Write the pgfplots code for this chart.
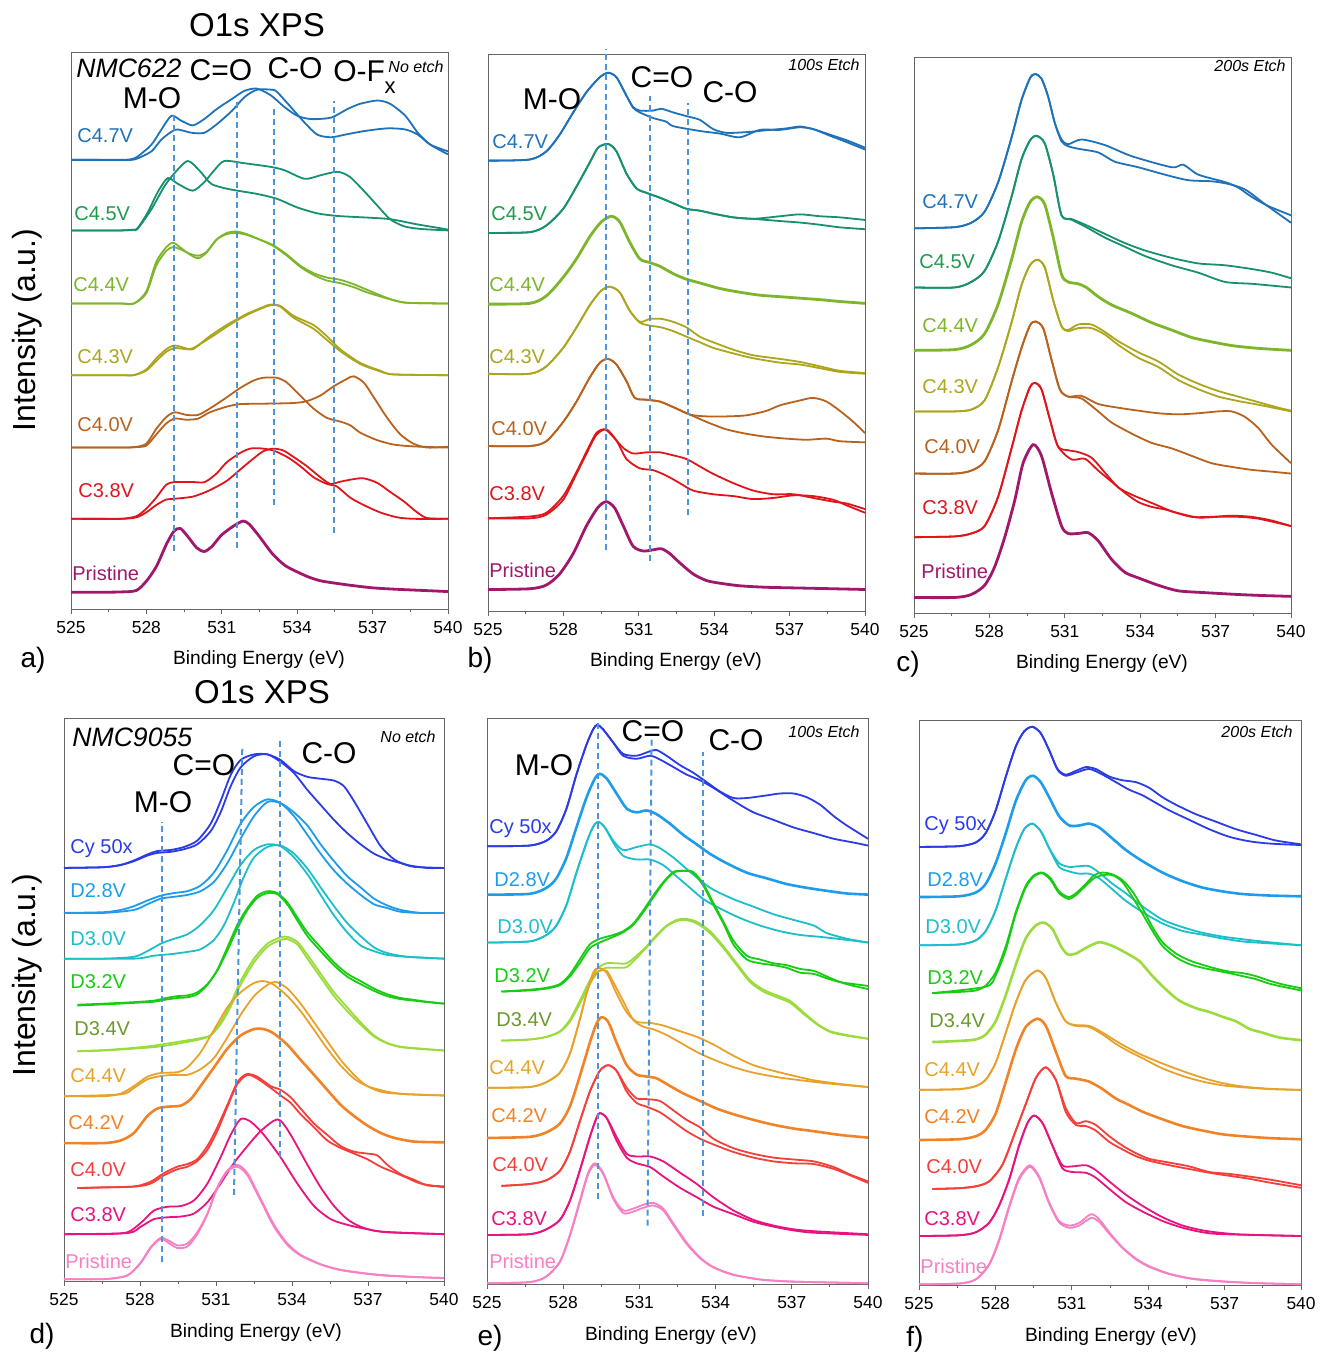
\documentclass[border=0pt]{standalone}
\usepackage{pgfplots}
\pgfplotsset{compat=1.18}
\usepackage{fontspec}
\setmainfont{Liberation Sans}

\definecolor{a47}{HTML}{1F72B8}
\definecolor{a45}{HTML}{16906E}
\definecolor{a45l}{HTML}{1D9A4A}
\definecolor{a44}{HTML}{7DB52B}
\definecolor{a43}{HTML}{ABA61E}
\definecolor{a40}{HTML}{B8621D}
\definecolor{a38}{HTML}{E0151B}
\definecolor{apr}{HTML}{A0176B}
\definecolor{bcy}{HTML}{2B3BE6}
\definecolor{b28}{HTML}{1E9CEB}
\definecolor{b30}{HTML}{1BBFC9}
\definecolor{b32}{HTML}{17CC13}
\definecolor{b34}{HTML}{9BDB3B}
\definecolor{b34l}{HTML}{6A9A2C}
\definecolor{b44}{HTML}{E8A22C}
\definecolor{b42}{HTML}{F28226}
\definecolor{b40}{HTML}{F43F3B}
\definecolor{b38}{HTML}{E8137E}
\definecolor{bpr}{HTML}{F780C4}
\definecolor{dsh}{HTML}{4C95DA}

\pgfplotsset{xps/.style={
  scale only axis, clip=false, anchor=south west,
  xmin=525, xmax=540, ymin=0,
  xtick={525,528,...,540}, minor x tick num=1,
  ytick=\empty, xtick pos=left, tick align=outside,
  major tick length=2.6pt, minor tick length=1.6pt,
  axis line style={black!60, line width=0.5pt},
  tick style={black!60, line width=0.5pt},
  tick label style={font=\fontsize{8.7}{10}\selectfont},
  /pgf/number format/assume math mode=true,
  every axis plot/.append style={smooth, tension=0.45, line width=0.9pt, mark=none},
}}
\tikzset{
  lab/.style={anchor=west, inner sep=0pt, font=\fontsize{10}{12}\selectfont},
  pk/.style={inner sep=0pt, font=\fontsize{15}{18}\selectfont},
  etch/.style={anchor=east, inner sep=0pt, font=\fontsize{8}{10}\selectfont\itshape},
  dl/.style={dsh, line width=1pt, dash pattern=on 3pt off 2pt},
  xl/.style={font=\fontsize{9.6}{11}\selectfont},
}

\begin{document}
\begin{tikzpicture}
\useasboundingbox (0pt,0pt) rectangle (659.5pt,-677pt);

% ---------------- (a) NMC622, no etch
\begin{axis}[xps, at={(35.5pt,-304.5pt)}, width=188.5pt, height=278pt, ymax=1498]
\addplot[a47] coordinates {(525,1210) (526,1210) (527,1210) (527.4,1212) (527.65,1219) (528.2,1251) (528.6,1292) (529,1329) (529.4,1315) (529.85,1303) (530.3,1320) (530.8,1347) (531.4,1374) (531.9,1396) (532.4,1402) (532.95,1384) (533.5,1352) (534,1329) (534.55,1320) (535.35,1324) (536,1347) (536.5,1361) (537.2,1370) (537.7,1361) (538.3,1329) (538.8,1283) (539.3,1251) (540,1225)};
\addplot[a47] coordinates {(525,1210) (526,1210) (527,1210) (527.4,1210) (527.65,1214) (528.2,1233) (528.6,1265) (529,1286) (529.25,1292) (529.8,1283) (530.3,1283) (530.8,1306) (531.4,1342) (531.9,1379) (532.4,1399) (533,1399) (533.2,1393) (533.75,1352) (534.3,1310) (534.8,1278) (535.35,1271) (535.9,1278) (536.7,1288) (537.6,1295) (538.3,1292) (538.8,1278) (539.3,1251) (540,1233)};
\addplot[a45] coordinates {(525,1020) (526,1020) (527,1020) (527.5,1022) (527.65,1026) (528.05,1068) (528.45,1123) (528.85,1161) (529.24,1146) (529.84,1127) (530.3,1150) (530.7,1182) (531.1,1207) (531.9,1201) (532.96,1191) (533.5,1182) (534.3,1159) (534.95,1169) (535.6,1178) (536.1,1164) (536.7,1123) (537.2,1086) (537.7,1050) (538.26,1031) (538.9,1024) (540,1020)};
\addplot[a45] coordinates {(525,1020) (526,1020) (527,1020) (527.5,1022) (527.65,1024) (528.2,1077) (528.7,1137) (529.1,1173) (529.64,1207) (530.1,1182) (530.57,1146) (531.1,1134) (531.63,1127) (532.43,1118) (533.2,1105) (534,1082) (534.8,1066) (535.6,1059) (536.94,1054) (537.73,1050) (538.8,1036) (539.6,1027) (540,1022)};
\addplot[a44] coordinates {(525,823) (526,823) (527,823) (527.5,823) (527.99,855) (528.39,935) (528.79,975) (529.06,987) (529.33,975) (529.73,955) (530.06,945) (530.39,960) (530.79,995) (531.19,1013) (531.59,1017) (531.99,1010) (532.52,995) (533.05,980) (533.59,955) (534.12,925) (534.65,905) (535.18,893) (535.71,887) (536.25,875) (536.78,860) (537.31,845) (537.84,832) (538.38,825) (540,823)};
\addplot[a44] coordinates {(525,823) (527,823) (527.5,823) (527.99,850) (528.39,925) (528.79,965) (529.06,975) (529.33,970) (529.73,957) (530.06,952) (530.39,962) (530.79,995) (531.19,1010) (531.59,1013) (531.99,1008) (532.52,995) (533.05,978) (533.59,952) (534.12,922) (534.65,900) (535.18,885) (535.71,878) (536.25,867) (536.78,853) (537.31,842) (537.84,832) (538.38,825) (540,823)};
\addplot[a43] coordinates {(525,630) (526,630) (527,630) (527.5,630) (527.99,645) (528.39,675) (528.79,700) (529.13,710) (529.59,702) (529.86,700) (530.52,735) (531.19,765) (531.59,780) (531.99,795) (532.52,810) (532.92,820) (533.32,815) (533.85,785) (534.65,755) (535.18,725) (535.71,695) (536.51,660) (537.31,640) (537.84,632) (540,630)};
\addplot[a43] coordinates {(525,630) (527,630) (527.5,630) (527.99,642) (528.39,668) (528.79,693) (529.13,703) (529.59,700) (529.86,703) (530.52,730) (531.19,760) (531.59,777) (531.99,792) (532.52,808) (532.92,818) (533.32,817) (533.85,790) (534.65,765) (535.18,735) (535.71,700) (536.51,663) (537.31,642) (537.84,632) (540,630)};
\addplot[a40] coordinates {(525,435) (526,435) (527,435) (527.5,436) (527.99,445) (528.39,485) (528.79,517) (529.13,530) (529.59,523) (530.06,523) (530.52,540) (531.19,570) (531.72,595) (532.25,615) (532.65,623) (533.19,623) (533.59,610) (534.12,575) (534.65,540) (535.18,515) (535.71,505) (536.11,495) (536.51,475) (537.18,455) (537.84,443) (538.64,438) (540,435)};
\addplot[a40] coordinates {(525,435) (527,435) (527.5,436) (527.99,440) (528.39,470) (528.79,500) (529.13,513) (529.59,510) (530.06,513) (530.52,530) (531.19,545) (531.72,552) (532.52,553) (533.85,555) (534.38,560) (534.92,575) (535.45,600) (535.98,620) (536.25,627) (536.65,610) (537.05,570) (537.58,515) (538.11,470) (538.64,445) (539.18,435) (540,437)};
\addplot[a38] coordinates {(525,243) (526,243) (527,243) (527.6,250) (527.99,270) (528.39,300) (528.79,335) (529.13,342) (529.86,342) (530.32,342) (530.79,365) (531.19,395) (531.72,420) (532.12,432) (532.52,433) (533.05,427) (533.59,410) (534.12,385) (534.65,355) (535.18,337) (535.58,330) (536.11,300) (536.65,280) (537.31,260) (537.98,247) (538.64,243) (540,243)};
\addplot[a38] coordinates {(525,243) (527,243) (527.6,247) (527.99,260) (528.39,280) (528.79,295) (529.13,297) (529.86,303) (530.52,320) (531.19,345) (531.72,375) (532.25,405) (532.65,425) (533.05,432) (533.45,427) (533.85,410) (534.38,385) (534.92,355) (535.32,337) (535.71,343) (536.25,350) (536.65,352) (537.18,340) (537.71,315) (538.24,290) (538.78,260) (539.18,245) (540,243)};
\addplot[apr, line width=1.4pt] coordinates {(525,45) (526,45) (527,46) (527.6,50) (528,75) (528.4,115) (528.8,175) (529.1,210) (529.35,217) (529.65,195) (530,165) (530.3,155) (530.6,168) (531,200) (531.5,225) (531.85,237) (532.1,228) (532.5,195) (533,150) (533.5,118) (534,100) (534.5,85) (535,75) (536,65) (537,57) (538,53) (539,50) (540,47)};
\draw[dl] (axis cs:529.1,155) -- (axis cs:529.1,1330);
\draw[dl] (axis cs:531.6,165) -- (axis cs:531.6,1375);
\draw[dl] (axis cs:533.07,280) -- (axis cs:533.07,1355);
\draw[dl] (axis cs:535.45,205) -- (axis cs:535.45,1370);
\end{axis}

% ---------------- (b) NMC622, 100s etch
\begin{axis}[xps, at={(244pt,-305.5pt)}, width=188.5pt, height=278pt, ymax=1500]
\addplot[a47] coordinates {(525,1215) (526.66,1218) (527.32,1240) (527.85,1285) (528.39,1345) (528.92,1400) (529.45,1440) (529.78,1452) (530.11,1440) (530.51,1390) (530.77,1360) (531.04,1350) (531.57,1350) (531.9,1355) (532.37,1345) (532.9,1335) (533.43,1325) (533.96,1300) (534.49,1290) (535.29,1292) (536.08,1297) (536.88,1302) (537.41,1307) (537.94,1300) (538.61,1285) (539.27,1270) (540,1250)};
\addplot[a47] coordinates {(525,1215) (526.66,1218) (527.32,1240) (527.85,1285) (528.39,1345) (528.92,1400) (529.45,1440) (529.78,1452) (530.11,1440) (530.51,1390) (530.77,1358) (531.04,1345) (531.57,1330) (532.1,1320) (532.37,1308) (533.43,1295) (534.23,1288) (535.02,1278) (535.82,1298) (536.62,1298) (537.41,1305) (537.94,1300) (538.61,1282) (539.27,1265) (540,1245)};
\addplot[a45] coordinates {(525,1020) (526.66,1022) (527.32,1040) (527.99,1085) (528.52,1145) (529.05,1210) (529.38,1250) (529.78,1260) (530.11,1240) (530.51,1180) (530.91,1140) (531.31,1128) (531.84,1115) (532.37,1100) (532.9,1085) (533.43,1080) (533.96,1072) (534.76,1062) (535.55,1058) (536.62,1065) (537.41,1070) (538.21,1065) (539,1062) (540,1055)};
\addplot[a45] coordinates {(525,1020) (526.66,1022) (527.32,1040) (527.99,1085) (528.52,1145) (529.05,1210) (529.38,1250) (529.78,1260) (530.11,1240) (530.51,1180) (530.91,1140) (531.31,1128) (531.84,1115) (532.37,1100) (532.9,1085) (533.43,1080) (533.96,1072) (534.76,1062) (535.55,1058) (536.62,1052) (537.41,1048) (538.21,1042) (539,1035) (540,1030)};
\addplot[a44, line width=1.4pt] coordinates {(525,828) (526.66,830) (527.32,850) (527.99,900) (528.52,950) (529.05,1010) (529.51,1050) (529.91,1065) (530.24,1050) (530.64,995) (531.04,950) (531.44,940) (531.84,930) (532.37,910) (532.9,895) (533.43,885) (534.23,870) (535.02,860) (535.82,852) (536.62,848) (537.41,844) (538.21,840) (539,835) (540,830)};
\addplot[a43] coordinates {(525,640) (526.66,640) (527.32,660) (527.99,710) (528.52,765) (529.05,825) (529.51,865) (529.85,875) (530.24,860) (530.64,810) (531.04,780) (531.44,788) (531.9,788) (532.37,780) (532.9,765) (533.43,740) (533.96,725) (534.76,705) (535.55,690) (536.62,680) (537.41,672) (538.21,660) (539,648) (540,642)};
\addplot[a43] coordinates {(525,640) (526.66,640) (527.32,660) (527.99,710) (528.52,765) (529.05,825) (529.51,865) (529.85,875) (530.24,860) (530.64,810) (531.04,778) (531.44,770) (531.9,765) (532.37,755) (532.9,740) (533.43,725) (533.96,710) (534.76,695) (535.55,682) (536.62,670) (537.41,665) (538.21,655) (539,645) (540,640)};
\addplot[a40] coordinates {(525,445) (526.66,445) (527.32,458) (527.99,510) (528.52,565) (529.05,630) (529.45,670) (529.78,680) (530.11,665) (530.51,620) (530.84,575) (531.31,570) (531.84,565) (532.37,550) (533.03,530) (533.7,525) (534.49,525) (535.29,528) (536.08,540) (536.62,555) (537.41,568) (537.94,575) (538.47,565) (539,540) (539.54,510) (540,480)};
\addplot[a40] coordinates {(525,445) (526.66,445) (527.32,458) (527.99,510) (528.52,565) (529.05,630) (529.45,670) (529.78,680) (530.11,665) (530.51,620) (530.84,575) (531.31,570) (531.84,565) (532.37,550) (533.03,530) (533.7,510) (534.49,490) (535.29,478) (536.08,470) (536.88,465) (537.68,462) (538.47,465) (539,458) (540,455)};
\addplot[a38] coordinates {(525,250) (526.66,255) (527.32,265) (527.99,310) (528.52,375) (528.92,430) (529.31,480) (529.65,490) (529.98,470) (530.38,440) (530.77,425) (531.31,428) (531.84,428) (532.37,420) (532.9,410) (533.43,390) (533.96,370) (534.76,345) (535.55,325) (536.35,315) (537.15,315) (537.94,305) (538.74,295) (539.27,290) (540,275)};
\addplot[a38] coordinates {(525,250) (526.66,250) (527.32,260) (527.99,300) (528.52,370) (528.92,425) (529.31,475) (529.71,490) (530.11,460) (530.51,410) (531.04,385) (531.57,380) (532.1,365) (532.63,345) (533.16,325) (533.96,315) (534.76,310) (535.55,302) (536.35,305) (537.15,312) (537.94,310) (538.74,300) (539.27,285) (540,265)};
\addplot[apr, line width=1.4pt] coordinates {(525,58) (526.66,60) (527.32,70) (527.85,100) (528.39,155) (528.92,230) (529.38,280) (529.71,295) (530.04,278) (530.38,230) (530.77,175) (531.17,162) (531.57,165) (531.9,168) (532.23,155) (532.63,130) (533.16,100) (533.7,82) (534.23,75) (535.02,68) (536.08,64) (537.41,62) (538.74,60) (540,58)};
\draw[dl] (axis cs:529.69,165) -- (axis cs:529.69,1515);
\draw[dl] (axis cs:531.46,135) -- (axis cs:531.46,1390);
\draw[dl] (axis cs:532.96,260) -- (axis cs:532.96,1370);
\end{axis}

% ---------------- (c) NMC622, 200s etch
\begin{axis}[xps, at={(457pt,-306.5pt)}, width=188.5pt, height=278pt, ymax=1503]
\addplot[a47] coordinates {(525,1040) (526.62,1043) (527.28,1055) (527.81,1085) (528.35,1165) (528.88,1285) (529.27,1385) (529.61,1445) (529.81,1457) (530.07,1445) (530.34,1395) (530.6,1325) (530.87,1280) (531.13,1267) (531.66,1280) (532.59,1265) (533.66,1235) (535.25,1205) (535.71,1212) (536.31,1185) (537.37,1165) (537.9,1150) (538.43,1125) (539.1,1100) (540,1075)};
\addplot[a47] coordinates {(525,1040) (526.62,1043) (527.28,1055) (527.81,1085) (528.35,1165) (528.88,1285) (529.27,1385) (529.61,1445) (529.81,1457) (530.07,1445) (530.34,1395) (530.6,1325) (530.87,1275) (531.13,1262) (531.53,1255) (532.33,1245) (532.99,1220) (533.92,1205) (534.98,1185) (535.91,1170) (536.84,1167) (537.5,1160) (538.17,1145) (538.97,1105) (540,1055)};
\addplot[a45] coordinates {(525,880) (526.62,880) (527.28,895) (527.81,925) (528.35,1005) (528.88,1125) (529.27,1225) (529.61,1277) (529.87,1290) (530.2,1270) (530.54,1185) (530.87,1075) (531.27,1065) (531.8,1050) (532.59,1025) (533.39,1000) (534.19,980) (535.25,960) (536.31,945) (537.37,940) (538.43,930) (539.23,920) (540,905)};
\addplot[a45] coordinates {(525,880) (526.62,880) (527.28,895) (527.81,925) (528.35,1005) (528.88,1125) (529.27,1225) (529.61,1277) (529.87,1290) (530.2,1270) (530.54,1185) (530.87,1075) (531.27,1063) (531.8,1045) (532.59,1015) (533.39,990) (534.19,965) (535.25,940) (536.31,920) (537.37,895) (538.43,890) (539.23,885) (540,880)};
\addplot[a44, line width=1.4pt] coordinates {(525,710) (526.62,712) (527.28,725) (527.81,755) (528.35,835) (528.88,955) (529.27,1055) (529.61,1110) (529.9,1125) (530.2,1105) (530.54,1015) (530.87,915) (531.13,895) (531.53,890) (531.86,880) (532.33,855) (532.86,833) (533.66,810) (534.45,785) (535.25,765) (536.04,745) (536.84,733) (537.64,723) (538.43,717) (539.23,713) (540,710)};
\addplot[a43] coordinates {(525,545) (526.62,545) (527.28,550) (527.81,575) (528.35,665) (528.88,785) (529.27,885) (529.61,940) (529.91,955) (530.2,935) (530.54,845) (530.87,775) (531.13,765) (531.53,780) (532.06,780) (532.59,760) (533.12,735) (533.92,705) (534.72,680) (535.51,645) (536.31,620) (537.11,600) (537.9,585) (538.7,570) (539.5,555) (540,547)};
\addplot[a43] coordinates {(525,545) (526.62,545) (527.28,550) (527.81,575) (528.35,665) (528.88,785) (529.27,885) (529.61,940) (529.91,955) (530.2,935) (530.54,845) (530.87,775) (531.13,762) (531.53,770) (532.06,770) (532.59,753) (533.12,725) (533.92,690) (534.72,665) (535.51,630) (536.31,605) (537.11,585) (537.9,573) (538.7,563) (539.5,552) (540,545)};
\addplot[a40] coordinates {(525,377) (526.62,377) (527.28,385) (527.81,410) (528.35,495) (528.88,625) (529.27,715) (529.61,777) (529.83,788) (530.14,770) (530.47,685) (530.8,605) (531.13,585) (531.66,587) (532.33,565) (533.12,555) (533.92,547) (534.72,540) (535.51,537) (536.31,540) (537.11,545) (537.64,545) (538.17,530) (538.7,500) (539.23,455) (540,405)};
\addplot[a40] coordinates {(525,377) (526.62,377) (527.28,385) (527.81,410) (528.35,495) (528.88,625) (529.27,715) (529.61,777) (529.83,788) (530.14,770) (530.47,685) (530.8,605) (531.13,585) (531.66,580) (532.33,545) (532.86,515) (533.66,485) (534.45,460) (535.25,445) (536.04,425) (536.84,405) (537.64,395) (538.43,387) (539.23,382) (540,377)};
\addplot[a38] coordinates {(525,205) (526.62,207) (527.28,215) (527.81,235) (528.35,315) (528.88,445) (529.27,545) (529.61,610) (529.81,622) (530.07,605) (530.4,525) (530.73,450) (531.13,440) (531.53,435) (532.06,420) (532.59,380) (533.12,340) (533.66,320) (534.19,305) (534.72,290) (535.25,275) (536.04,260) (536.84,260) (537.64,263) (538.43,260) (539.23,250) (540,235)};
\addplot[a38] coordinates {(525,205) (526.62,207) (527.28,215) (527.81,235) (528.35,315) (528.88,445) (529.27,545) (529.61,610) (529.81,622) (530.07,605) (530.4,525) (530.73,450) (531.27,415) (531.8,417) (532.33,385) (532.86,355) (533.39,325) (533.92,300) (534.45,287) (534.98,280) (535.51,270) (536.31,258) (537.11,260) (537.9,260) (538.7,255) (540,235)};
\addplot[apr, line width=1.4pt] coordinates {(525,42) (526.62,42) (527.28,50) (527.81,75) (528.21,125) (528.61,205) (529.01,305) (529.34,405) (529.74,455) (530.07,425) (530.47,325) (530.87,235) (531.13,215) (531.53,215) (531.93,217) (532.33,195) (532.86,145) (533.39,110) (533.92,95) (534.72,75) (535.51,60) (536.58,55) (537.9,50) (538.97,47) (540,45)};
\end{axis}

% ---------------- (d) NMC9055, no etch
\begin{axis}[xps, at={(32pt,-640.5pt)}, width=190pt, height=281.5pt, ymax=1502]
\addplot[bcy] coordinates {(525,1102) (526.58,1104) (527.24,1110) (527.76,1122) (528.29,1138) (528.68,1147) (529.21,1150) (529.74,1158) (530.26,1175) (530.79,1220) (531.18,1280) (531.58,1350) (531.97,1390) (532.5,1405) (533.03,1405) (533.55,1390) (534.08,1360) (534.61,1345) (535.13,1340) (535.66,1335) (536.05,1320) (536.45,1280) (536.97,1220) (537.5,1160) (538.03,1125) (538.55,1110) (539.34,1102) (540,1102)};
\addplot[bcy] coordinates {(525,1102) (526.58,1104) (527.24,1110) (527.76,1120) (528.29,1135) (528.68,1142) (529.21,1145) (529.74,1152) (530.26,1165) (530.79,1200) (531.18,1250) (531.58,1320) (531.97,1370) (532.5,1400) (533.03,1405) (533.55,1385) (534.08,1355) (534.61,1310) (535.13,1270) (535.66,1230) (536.18,1195) (536.71,1165) (537.24,1140) (537.76,1125) (538.29,1115) (538.82,1105) (540,1102)};
\addplot[b28] coordinates {(525,982) (526.58,984) (527.24,990) (527.76,1000) (528.29,1015) (528.82,1028) (529.34,1035) (529.87,1040) (530.39,1055) (530.92,1090) (531.45,1150) (531.97,1220) (532.5,1265) (533.03,1285) (533.55,1275) (534.08,1240) (534.61,1190) (535.13,1140) (535.66,1095) (536.18,1060) (536.71,1030) (537.24,1005) (537.76,995) (538.29,985) (539.08,982) (540,982)};
\addplot[b28] coordinates {(525,982) (526.58,982) (527.76,990) (528.29,1005) (528.82,1020) (529.34,1025) (529.87,1030) (530.39,1040) (530.92,1065) (531.45,1115) (531.97,1180) (532.5,1240) (533.03,1278) (533.55,1275) (534.08,1250) (534.61,1215) (535.13,1165) (535.66,1120) (536.18,1080) (536.71,1050) (537.24,1020) (537.76,1002) (538.29,990) (539.08,982) (540,982)};
\addplot[b30] coordinates {(525,860) (526.58,860) (527.76,865) (528.29,880) (528.82,900) (529.21,910) (529.87,925) (530.39,950) (530.92,990) (531.45,1050) (531.97,1110) (532.5,1150) (533.03,1165) (533.55,1160) (534.08,1130) (534.61,1085) (535.13,1030) (535.66,975) (536.18,930) (536.71,895) (537.24,880) (537.76,870) (538.55,865) (540,860)};
\addplot[b30] coordinates {(525,860) (527.76,860) (528.55,868) (529.21,872) (529.87,878) (530.39,885) (530.92,910) (531.32,950) (531.71,1010) (532.11,1080) (532.5,1130) (533.03,1158) (533.55,1162) (534.08,1140) (534.61,1100) (535.13,1050) (535.66,1000) (536.18,955) (536.71,920) (537.24,890) (537.76,875) (538.55,865) (540,860)};
\addplot[b32] coordinates {(525.53,735) (526.58,738) (527.76,742) (528.55,745) (528.95,750) (529.47,755) (529.87,757) (530.26,765) (530.66,790) (531.05,830) (531.45,890) (531.84,950) (532.24,995) (532.63,1028) (533.03,1040) (533.42,1035) (533.82,1010) (534.21,970) (534.61,930) (535.13,890) (535.66,850) (536.18,820) (536.71,800) (537.24,780) (537.76,765) (538.29,755) (538.82,750) (539.34,745) (540,740)};
\addplot[b32] coordinates {(525.53,737) (526.58,740) (527.76,744) (528.55,748) (528.95,754) (529.47,760) (529.87,762) (530.26,770) (530.66,792) (531.05,828) (531.45,882) (531.84,940) (532.24,990) (532.63,1022) (533.03,1035) (533.42,1032) (533.82,1004) (534.21,962) (534.61,920) (535.13,880) (535.66,842) (536.18,812) (536.71,792) (537.24,774) (537.76,760) (538.29,752) (538.82,748) (539.34,744) (540,740)};
\addplot[b34] coordinates {(525.53,613) (526.58,615) (527.76,620) (528.55,624) (529.21,630) (529.87,638) (530.39,645) (530.79,655) (531.18,690) (531.58,740) (531.97,800) (532.5,860) (533.03,900) (533.55,917) (533.82,918) (534.21,905) (534.61,870) (535.13,820) (535.66,770) (536.18,730) (536.71,690) (537.24,655) (537.76,635) (538.29,625) (539.08,620) (540,615)};
\addplot[b34] coordinates {(525.53,613) (526.58,616) (527.76,622) (528.55,628) (529.21,635) (529.87,642) (530.39,648) (530.79,656) (531.18,685) (531.58,732) (531.97,790) (532.5,850) (533.03,892) (533.55,910) (533.82,912) (534.21,898) (534.61,860) (535.13,810) (535.66,760) (536.18,720) (536.71,684) (537.24,652) (537.76,634) (538.29,624) (539.08,619) (540,615)};
\addplot[b44] coordinates {(525,493) (526.58,493) (527.24,500) (527.76,520) (528.29,545) (528.82,555) (529.47,557) (529.87,570) (530.39,610) (530.92,670) (531.45,730) (531.97,770) (532.5,795) (532.89,800) (533.29,790) (533.82,760) (534.34,720) (534.87,670) (535.39,620) (535.92,575) (536.45,540) (536.97,520) (537.76,505) (538.55,498) (540,495)};
\addplot[b44] coordinates {(525,493) (527.24,498) (527.76,515) (528.29,538) (528.82,547) (529.34,550) (529.87,550) (530.39,565) (530.92,595) (531.45,650) (531.97,710) (532.5,760) (533.03,790) (533.36,798) (533.82,780) (534.34,740) (534.87,690) (535.39,640) (535.92,590) (536.45,550) (536.97,520) (537.76,502) (540,495)};
\addplot[b42, line width=1.3pt] coordinates {(525,368) (526.58,368) (527.24,375) (527.76,395) (528.29,440) (528.68,460) (529.08,465) (529.61,468) (530,485) (530.39,520) (530.92,570) (531.45,620) (531.97,655) (532.5,672) (532.89,672) (533.29,660) (533.82,630) (534.34,590) (534.87,550) (535.39,510) (535.92,470) (536.45,440) (536.97,415) (537.5,395) (538.03,382) (538.82,372) (540,370)};
\addplot[b40] coordinates {(525.53,248) (526.58,250) (527.76,252) (528.42,265) (528.95,288) (529.47,305) (529.87,312) (530.26,325) (530.66,360) (531.05,410) (531.45,470) (531.84,530) (532.21,552) (532.63,545) (533.16,520) (533.55,510) (533.95,490) (534.34,460) (534.87,420) (535.39,390) (535.92,360) (536.45,345) (536.97,340) (537.37,335) (537.76,310) (538.29,285) (538.82,270) (539.34,255) (540,253)};
\addplot[b40] coordinates {(525.53,248) (527.76,252) (528.42,260) (528.95,282) (529.47,298) (529.87,305) (530.26,320) (530.66,350) (531.05,400) (531.45,465) (531.84,525) (532.24,550) (532.63,540) (533.16,515) (533.55,495) (533.95,475) (534.34,445) (534.87,410) (535.39,375) (535.92,355) (536.45,340) (536.97,325) (537.5,305) (538.03,290) (538.55,275) (539.08,260) (540,250)};
\addplot[b38] coordinates {(525,125) (526.58,125) (527.5,130) (528.03,155) (528.55,188) (529.08,198) (529.61,200) (530.13,215) (530.66,260) (531.18,330) (531.58,390) (531.97,432) (532.37,425) (532.89,390) (533.55,330) (534.21,260) (534.87,200) (535.53,165) (536.18,150) (536.84,140) (537.76,130) (540,125)};
\addplot[b38] coordinates {(525,125) (527.5,128) (528.03,145) (528.55,165) (529.08,170) (529.61,172) (530.13,180) (530.66,210) (531.18,260) (531.71,315) (532.24,360) (532.76,400) (533.29,428) (533.55,428) (533.95,390) (534.61,310) (535.13,250) (535.66,200) (536.18,165) (536.71,145) (537.5,132) (540,125)};
\addplot[bpr] coordinates {(525,5) (526.58,5) (527.5,15) (528.03,50) (528.42,90) (528.82,115) (529.21,105) (529.47,95) (529.87,100) (530.26,130) (530.66,180) (531.05,250) (531.45,295) (531.84,310) (532.24,288) (532.76,220) (533.29,150) (533.82,100) (534.34,70) (535.13,45) (535.92,30) (536.97,20) (537.76,15) (539.08,10) (540,8)};
\addplot[bpr] coordinates {(525,5) (526.58,5) (527.5,15) (528.03,48) (528.42,88) (528.82,112) (529.21,98) (529.47,88) (529.87,92) (530.26,125) (530.66,178) (531.05,248) (531.45,292) (531.84,305) (532.24,282) (532.76,215) (533.29,145) (533.82,96) (534.34,68) (535.13,44) (535.92,29) (536.97,19) (537.76,14) (539.08,10) (540,8)};
\draw[dl] (axis cs:528.88,50) -- (axis cs:528.88,1225);
\draw[dl] (axis cs:531.71,230) -- (axis cs:532.04,1430);
\draw[dl] (axis cs:533.53,330) -- (axis cs:533.53,1445);
\end{axis}

% ---------------- (e) NMC9055, 100s etch
\begin{axis}[xps, at={(243.5pt,-642pt)}, width=190.5pt, height=283pt, ymax=1500]
\addplot[bcy] coordinates {(525,1160) (526.68,1162) (527.34,1175) (527.73,1200) (528.13,1260) (528.52,1350) (528.92,1430) (529.18,1470) (529.34,1482) (529.57,1470) (529.97,1435) (530.36,1405) (530.89,1400) (531.42,1412) (531.68,1415) (532.07,1400) (532.6,1375) (533.12,1355) (533.65,1330) (534.18,1305) (534.7,1288) (535.23,1288) (536.02,1295) (536.54,1300) (537.07,1300) (537.59,1290) (538.12,1270) (538.65,1240) (539.17,1215) (540,1180)};
\addplot[bcy] coordinates {(525,1160) (526.68,1162) (527.34,1175) (527.73,1200) (528.13,1260) (528.52,1350) (528.92,1430) (529.18,1470) (529.34,1482) (529.57,1470) (529.97,1435) (530.36,1400) (530.89,1392) (531.42,1400) (531.81,1390) (532.34,1370) (532.86,1350) (533.39,1335) (533.91,1315) (534.44,1292) (534.96,1270) (535.49,1250) (536.28,1230) (537.07,1210) (537.86,1195) (538.65,1180) (539.43,1170) (540,1162)};
\addplot[b28, line width=1.3pt] coordinates {(525,1032) (526.68,1034) (527.34,1050) (527.73,1075) (528.13,1130) (528.52,1210) (528.92,1290) (529.25,1340) (529.44,1352) (529.71,1340) (530.1,1300) (530.5,1260) (530.89,1250) (531.28,1255) (531.68,1245) (532.2,1220) (532.73,1190) (533.26,1165) (533.78,1140) (534.44,1115) (535.23,1090) (536.02,1075) (536.8,1060) (537.59,1050) (538.38,1042) (539.17,1035) (540,1032)};
\addplot[b30] coordinates {(525,905) (526.68,908) (527.34,925) (527.73,950) (528.13,1005) (528.52,1090) (528.92,1170) (529.18,1212) (529.38,1225) (529.64,1210) (529.97,1175) (530.36,1150) (530.89,1158) (531.42,1165) (531.81,1155) (532.34,1130) (532.86,1100) (533.39,1070) (533.91,1045) (534.7,1020) (535.49,1000) (536.28,980) (537.07,965) (537.86,950) (538.38,930) (539.17,915) (540,905)};
\addplot[b30] coordinates {(525,905) (526.68,908) (527.34,925) (527.73,950) (528.13,1005) (528.52,1090) (528.92,1170) (529.18,1212) (529.38,1225) (529.64,1210) (529.97,1170) (530.36,1135) (530.89,1125) (531.42,1125) (531.94,1110) (532.47,1080) (532.99,1050) (533.52,1020) (534.18,995) (534.96,970) (535.75,950) (536.54,935) (537.33,925) (538.12,920) (539.17,912) (540,905)};
\addplot[b32] coordinates {(525.57,775) (526.68,780) (527.34,785) (527.87,795) (528.26,820) (528.65,860) (529.05,900) (529.44,915) (529.97,925) (530.36,935) (530.76,955) (531.15,990) (531.55,1030) (531.94,1065) (532.34,1092) (532.73,1095) (533.12,1092) (533.52,1060) (533.91,1010) (534.31,960) (534.7,910) (535.23,870) (535.75,860) (536.28,850) (536.8,845) (537.33,835) (537.86,830) (538.38,815) (538.91,800) (539.43,790) (540,782)};
\addplot[b32] coordinates {(525.57,775) (526.68,778) (527.34,783) (527.87,792) (528.26,815) (528.65,850) (529.05,890) (529.44,905) (529.97,920) (530.36,932) (530.76,952) (531.15,985) (531.55,1025) (531.94,1062) (532.34,1090) (532.73,1095) (533.12,1090) (533.52,1055) (533.91,1005) (534.31,955) (534.7,900) (535.23,860) (535.75,850) (536.28,845) (536.8,838) (537.33,825) (537.86,822) (538.38,810) (538.91,800) (539.43,795) (540,790)};
\addplot[b34] coordinates {(525.57,645) (526.68,648) (527.34,655) (527.87,670) (528.26,700) (528.65,750) (529.05,805) (529.38,838) (529.71,850) (530.1,850) (530.5,850) (530.89,870) (531.28,895) (531.68,925) (532.07,950) (532.47,965) (532.8,968) (533.26,960) (533.78,935) (534.31,895) (534.83,850) (535.36,805) (535.88,780) (536.41,765) (536.94,750) (537.46,720) (537.99,690) (538.51,670) (539.17,660) (540,650)};
\addplot[b34] coordinates {(525.57,645) (526.68,648) (527.34,655) (527.87,668) (528.26,695) (528.65,742) (529.05,795) (529.38,828) (529.71,838) (530.1,838) (530.5,840) (530.89,864) (531.28,892) (531.68,922) (532.07,948) (532.47,962) (532.8,965) (533.26,956) (533.78,930) (534.31,890) (534.83,845) (535.36,800) (535.88,775) (536.41,760) (536.94,745) (537.46,716) (537.99,688) (538.51,668) (539.17,658) (540,650)};
\addplot[b44] coordinates {(525,520) (526.68,522) (527.34,535) (527.87,560) (528.26,610) (528.65,700) (528.92,770) (529.18,825) (529.38,838) (529.71,825) (530.1,770) (530.5,720) (530.89,695) (531.42,692) (531.94,685) (532.6,670) (533.26,655) (533.91,635) (534.7,605) (535.49,580) (536.28,565) (537.07,552) (537.86,540) (538.91,530) (540,522)};
\addplot[b44] coordinates {(525,520) (526.68,522) (527.34,535) (527.87,560) (528.26,610) (528.65,700) (528.92,770) (529.18,815) (529.44,830) (529.71,830) (529.97,800) (530.36,750) (530.76,700) (531.15,682) (531.55,675) (532.07,660) (532.6,640) (533.26,615) (533.91,595) (534.7,575) (535.49,560) (536.54,547) (537.59,538) (538.65,530) (540,522)};
\addplot[b42, line width=1.3pt] coordinates {(525,387) (526.68,390) (527.34,402) (527.87,425) (528.26,470) (528.65,550) (529.05,640) (529.31,690) (529.51,707) (529.77,695) (530.1,640) (530.5,580) (530.89,555) (531.28,550) (531.68,545) (532.2,525) (532.73,505) (533.39,485) (534.04,465) (534.7,450) (535.49,435) (536.28,422) (537.07,412) (537.86,405) (538.91,395) (540,388)};
\addplot[b40] coordinates {(525.57,260) (526.68,265) (527.34,275) (527.87,300) (528.26,350) (528.65,430) (529.05,510) (529.44,565) (529.77,580) (530.1,565) (530.5,520) (530.89,492) (531.28,490) (531.81,485) (532.34,460) (532.86,435) (533.39,415) (533.91,385) (534.7,360) (535.49,345) (536.28,335) (537.07,330) (537.86,325) (538.65,310) (539.3,290) (540,272)};
\addplot[b40] coordinates {(525.57,260) (526.68,265) (527.34,275) (527.87,300) (528.26,350) (528.65,430) (529.05,510) (529.44,565) (529.77,580) (530.1,565) (530.5,510) (530.89,480) (531.28,470) (531.81,455) (532.34,430) (532.86,405) (533.39,385) (533.91,370) (534.7,350) (535.49,335) (536.28,325) (537.07,320) (537.86,318) (538.65,305) (539.3,288) (540,268)};
\addplot[b38] coordinates {(525,130) (526.68,132) (527.34,145) (527.87,170) (528.26,220) (528.65,300) (529.05,390) (529.31,440) (529.44,453) (529.71,440) (530.1,390) (530.5,345) (530.89,338) (531.42,338) (531.94,325) (532.6,295) (533.26,265) (533.91,230) (534.7,195) (535.49,170) (536.28,155) (537.07,145) (537.86,140) (540,132)};
\addplot[b38] coordinates {(525,130) (526.68,132) (527.34,145) (527.87,170) (528.26,220) (528.65,300) (529.05,390) (529.31,440) (529.44,453) (529.71,440) (530.1,380) (530.5,335) (530.89,320) (531.42,310) (531.94,285) (532.6,255) (533.26,230) (533.91,205) (534.7,185) (535.49,165) (536.28,152) (537.07,142) (537.86,136) (540,130)};
\addplot[bpr] coordinates {(525,2) (526.68,5) (527.34,20) (527.87,60) (528.26,130) (528.65,220) (528.98,295) (529.25,320) (529.57,295) (529.97,230) (530.36,195) (530.76,200) (531.15,210) (531.55,215) (531.94,200) (532.34,160) (532.86,110) (533.39,70) (533.91,45) (534.7,25) (535.75,12) (536.8,7) (537.86,5) (540,2)};
\addplot[bpr] coordinates {(525,2) (526.68,5) (527.34,20) (527.87,58) (528.26,126) (528.65,215) (528.98,290) (529.25,316) (529.57,292) (529.97,226) (530.36,188) (530.76,192) (531.15,202) (531.55,208) (531.94,195) (532.34,156) (532.86,106) (533.39,68) (533.91,44) (534.7,24) (535.75,12) (536.8,7) (537.86,5) (540,2)};
\draw[dl] (axis cs:529.38,225) -- (axis cs:529.38,1495);
\draw[dl] (axis cs:531.32,155) -- (axis cs:531.48,1445);
\draw[dl] (axis cs:533.52,180) -- (axis cs:533.52,1410);
\end{axis}

% ---------------- (f) NMC9055, 200s etch
\begin{axis}[xps, at={(459.5pt,-642.5pt)}, width=191pt, height=282.5pt, ymax=1500]
\addplot[bcy] coordinates {(525,1163) (526.57,1165) (527.23,1175) (527.62,1200) (528.01,1260) (528.41,1350) (528.8,1430) (529.13,1470) (529.45,1482) (529.78,1465) (530.11,1420) (530.44,1370) (530.76,1355) (531.16,1365) (531.55,1375) (531.94,1370) (532.47,1350) (532.99,1340) (533.52,1335) (534.04,1320) (534.56,1295) (535.09,1275) (535.87,1250) (536.66,1230) (537.45,1210) (538.23,1195) (539.02,1180) (540,1170)};
\addplot[bcy] coordinates {(525,1163) (526.57,1165) (527.23,1175) (527.62,1200) (528.01,1260) (528.41,1350) (528.8,1430) (529.13,1470) (529.45,1482) (529.78,1465) (530.11,1420) (530.44,1368) (530.76,1352) (531.16,1360) (531.68,1370) (532.21,1355) (532.73,1335) (533.25,1315) (533.78,1300) (534.3,1280) (534.83,1260) (535.61,1235) (536.4,1210) (537.18,1190) (537.97,1178) (538.76,1172) (540,1168)};
\addplot[b28, line width=1.3pt] coordinates {(525,1030) (526.57,1032) (527.23,1042) (527.62,1065) (528.01,1120) (528.41,1200) (528.8,1285) (529.19,1340) (529.48,1352) (529.78,1335) (530.11,1295) (530.5,1245) (530.9,1220) (531.29,1220) (531.68,1225) (532.07,1215) (532.6,1185) (533.12,1155) (533.78,1125) (534.56,1095) (535.35,1072) (536.14,1055) (536.92,1045) (537.71,1038) (538.76,1034) (540,1032)};
\addplot[b30] coordinates {(525,902) (526.57,904) (527.23,915) (527.62,940) (528.01,995) (528.41,1080) (528.8,1160) (529.13,1210) (529.45,1225) (529.78,1205) (530.11,1160) (530.5,1120) (530.9,1110) (531.29,1112) (531.68,1112) (532.07,1095) (532.6,1065) (533.12,1040) (533.78,1005) (534.56,970) (535.35,950) (536.14,935) (536.92,925) (537.71,918) (538.76,910) (540,902)};
\addplot[b30] coordinates {(525,902) (526.57,904) (527.23,915) (527.62,940) (528.01,995) (528.41,1080) (528.8,1160) (529.13,1210) (529.45,1225) (529.78,1205) (530.11,1160) (530.5,1110) (530.9,1098) (531.29,1092) (531.68,1092) (532.07,1080) (532.6,1050) (533.12,1020) (533.78,990) (534.56,960) (535.35,940) (536.14,930) (536.92,920) (537.71,912) (538.76,907) (540,902)};
\addplot[b32] coordinates {(525.52,775) (526.57,778) (527.23,782) (527.62,795) (528.01,830) (528.41,900) (528.8,990) (529.19,1060) (529.52,1088) (529.85,1095) (530.17,1080) (530.5,1045) (530.87,1030) (531.16,1040) (531.55,1065) (531.88,1088) (532.21,1095) (532.6,1090) (532.99,1075) (533.38,1045) (533.78,1000) (534.17,950) (534.56,910) (535.09,880) (535.61,862) (536.14,850) (536.66,840) (537.18,832) (537.71,828) (538.23,820) (538.76,808) (539.28,798) (540,788)};
\addplot[b32] coordinates {(525.52,775) (527.62,792) (528.01,822) (528.41,890) (528.8,985) (529.19,1055) (529.52,1085) (529.85,1093) (530.17,1075) (530.5,1040) (530.87,1025) (531.16,1035) (531.55,1060) (531.88,1080) (532.21,1088) (532.6,1088) (532.99,1070) (533.38,1030) (533.78,985) (534.17,940) (534.56,900) (535.09,870) (535.61,852) (536.14,842) (536.66,835) (537.18,828) (537.71,820) (538.23,812) (538.76,800) (539.28,792) (540,782)};
\addplot[b34, line width=1.3pt] coordinates {(525.52,645) (526.57,648) (527.23,652) (527.62,665) (528.01,700) (528.41,770) (528.8,850) (529.19,920) (529.59,955) (529.91,962) (530.24,945) (530.57,900) (530.83,878) (531.16,880) (531.55,895) (532.07,910) (532.6,900) (533.12,882) (533.65,860) (534.17,820) (534.69,785) (535.22,755) (535.87,735) (536.4,725) (536.92,712) (537.45,700) (537.97,680) (538.49,670) (539.15,657) (540,650)};
\addplot[b44] coordinates {(525,518) (526.57,520) (527.23,528) (527.62,545) (528.01,590) (528.41,670) (528.8,750) (529.19,810) (529.65,835) (529.98,815) (530.37,750) (530.76,700) (531.16,688) (531.68,685) (532.21,665) (532.73,640) (533.25,620) (533.78,602) (534.56,575) (535.35,555) (536.14,540) (536.92,530) (537.71,525) (538.76,520) (540,518)};
\addplot[b44] coordinates {(525,518) (526.57,520) (527.23,528) (527.62,545) (528.01,590) (528.41,670) (528.8,750) (529.19,810) (529.65,835) (529.98,815) (530.37,750) (530.76,700) (531.16,690) (531.68,688) (532.21,670) (532.73,648) (533.25,628) (533.78,610) (534.56,588) (535.35,568) (536.14,550) (536.92,536) (537.71,527) (538.76,521) (540,518)};
\addplot[b42, line width=1.3pt] coordinates {(525,385) (526.57,387) (527.23,395) (527.62,412) (528.01,455) (528.41,540) (528.8,625) (529.19,685) (529.65,707) (529.98,688) (530.37,620) (530.76,555) (531.16,548) (531.68,540) (532.21,520) (532.73,495) (533.25,478) (533.78,460) (534.56,440) (535.35,422) (536.14,410) (536.92,400) (537.71,395) (538.76,390) (540,387)};
\addplot[b40] coordinates {(525.52,255) (526.57,257) (527.23,262) (527.75,275) (528.28,320) (528.8,410) (529.19,480) (529.59,550) (529.98,578) (530.37,545) (530.76,470) (531.16,430) (531.55,435) (531.94,425) (532.47,395) (532.99,370) (533.52,350) (534.04,335) (534.83,325) (535.61,315) (536.4,300) (537.18,295) (537.97,288) (538.76,280) (540,265)};
\addplot[b40] coordinates {(525.52,255) (526.57,257) (527.23,262) (527.75,275) (528.28,320) (528.8,410) (529.19,480) (529.59,550) (529.98,578) (530.37,545) (530.76,460) (531.16,425) (531.55,422) (531.94,410) (532.47,380) (532.99,360) (533.52,342) (534.04,330) (534.83,318) (535.61,308) (536.4,298) (537.18,290) (537.97,282) (538.76,272) (540,258)};
\addplot[b38] coordinates {(525,130) (526.57,132) (527.23,140) (527.75,165) (528.14,210) (528.54,280) (528.93,370) (529.26,430) (529.52,450) (529.85,430) (530.24,370) (530.63,318) (531.03,315) (531.55,318) (531.94,305) (532.47,275) (533.12,240) (533.78,210) (534.56,180) (535.35,158) (536.14,145) (536.92,138) (537.71,134) (540,130)};
\addplot[b38] coordinates {(525,130) (526.57,132) (527.23,140) (527.75,165) (528.14,210) (528.54,280) (528.93,370) (529.26,430) (529.52,450) (529.85,430) (530.24,370) (530.63,310) (531.03,300) (531.55,298) (531.94,285) (532.47,255) (533.12,220) (533.78,195) (534.56,170) (535.35,152) (536.14,140) (536.92,135) (540,130)};
\addplot[bpr] coordinates {(525,2) (526.57,4) (527.23,15) (527.75,55) (528.14,120) (528.54,210) (528.93,285) (529.35,318) (529.72,288) (530.11,220) (530.5,170) (530.9,158) (531.29,165) (531.75,188) (532.07,175) (532.47,140) (532.99,100) (533.52,70) (534.04,50) (534.83,30) (535.74,17) (536.92,10) (538.23,5) (540,2)};
\addplot[bpr] coordinates {(525,2) (526.57,4) (527.23,15) (527.75,53) (528.14,116) (528.54,205) (528.93,280) (529.35,314) (529.72,284) (530.11,216) (530.5,166) (530.9,152) (531.29,158) (531.75,178) (532.07,168) (532.47,136) (532.99,98) (533.52,68) (534.04,48) (534.83,29) (535.74,16) (536.92,9) (538.23,5) (540,2)};
\end{axis}

% ---------------- texts, placed in image-pixel units
\begin{scope}[x=0.5pt,y=-0.5pt]
% (a)
\node[lab,text=a47] at (77,136) {C4.7V};
\node[lab,text=a45l] at (74,214) {C4.5V};
\node[lab,text=a44] at (73,285) {C4.4V};
\node[lab,text=a43] at (77,357) {C4.3V};
\node[lab,text=a40] at (77,425) {C4.0V};
\node[lab,text=a38] at (78,491) {C3.8V};
\node[lab,text=apr] at (72,573) {Pristine};
\node[anchor=west,inner sep=0pt,font=\fontsize{13.3}{16}\selectfont\itshape] at (76,68) {NMC622};
\node[pk] at (221,70) {C=O};
\node[pk] at (295,68) {C-O};
\node[pk,anchor=west] at (333,71) {O-F};
\node[inner sep=0pt,font=\fontsize{11}{13}\selectfont] at (390,88) {x};
\node[etch] at (444,67) {No etch};
\node[pk] at (152,98) {M-O};
% (b)
\node[lab,text=a47] at (492,142) {C4.7V};
\node[lab,text=a45l] at (491,214) {C4.5V};
\node[lab,text=a44] at (489,285) {C4.4V};
\node[lab,text=a43] at (489,357) {C4.3V};
\node[lab,text=a40] at (491,429) {C4.0V};
\node[lab,text=a38] at (489,494) {C3.8V};
\node[lab,text=apr] at (489,570) {Pristine};
\node[pk] at (552,99) {M-O};
\node[pk] at (662,77) {C=O};
\node[pk] at (730,92) {C-O};
\node[etch] at (860,65) {100s Etch};
% (c)
\node[lab,text=a47] at (922,202) {C4.7V};
\node[lab,text=a45l] at (919,262) {C4.5V};
\node[lab,text=a44] at (922,326) {C4.4V};
\node[lab,text=a43] at (922,387) {C4.3V};
\node[lab,text=a40] at (924,447) {C4.0V};
\node[lab,text=a38] at (922,508) {C3.8V};
\node[lab,text=apr] at (921,571) {Pristine};
\node[etch] at (1286,66) {200s Etch};
% (d)
\node[lab,text=bcy] at (70,849) {Cy 50x};
\node[lab,text=b28] at (70,891) {D2.8V};
\node[lab,text=b30] at (70,939) {D3.0V};
\node[lab,text=b32] at (70,982) {D3.2V};
\node[lab,text=b34l] at (74,1029) {D3.4V};
\node[lab,text=b44] at (70,1076) {C4.4V};
\node[lab,text=b42] at (68,1123) {C4.2V};
\node[lab,text=b40] at (70,1170) {C4.0V};
\node[lab,text=b38] at (70,1215) {C3.8V};
\node[lab,text=bpr] at (65,1261) {Pristine};
\node[anchor=west,inner sep=0pt,font=\fontsize{13.3}{16}\selectfont\itshape] at (72,737) {NMC9055};
\node[etch] at (436,737) {No etch};
\node[pk] at (204,765) {C=O};
\node[pk] at (163,802) {M-O};
\node[pk] at (329,753) {C-O};
% (e)
\node[lab,text=bcy] at (489,829) {Cy 50x};
\node[lab,text=b28] at (494,880) {D2.8V};
\node[lab,text=b30] at (497,927) {D3.0V};
\node[lab,text=b32] at (494,976) {D3.2V};
\node[lab,text=b34l] at (496,1020) {D3.4V};
\node[lab,text=b44] at (489,1068) {C4.4V};
\node[lab,text=b42] at (491,1116) {C4.2V};
\node[lab,text=b40] at (492,1165) {C4.0V};
\node[lab,text=b38] at (491,1219) {C3.8V};
\node[lab,text=bpr] at (489,1261) {Pristine};
\node[pk] at (544,765) {M-O};
\node[pk] at (653,731) {C=O};
\node[pk] at (736,740) {C-O};
\node[etch] at (860,732) {100s Etch};
% (f)
\node[lab,text=bcy] at (924,826) {Cy 50x};
\node[lab,text=b28] at (927,880) {D2.8V};
\node[lab,text=b30] at (925,927) {D3.0V};
\node[lab,text=b32] at (927,978) {D3.2V};
\node[lab,text=b34l] at (929,1021) {D3.4V};
\node[lab,text=b44] at (924,1070) {C4.4V};
\node[lab,text=b42] at (924,1117) {C4.2V};
\node[lab,text=b40] at (926,1167) {C4.0V};
\node[lab,text=b38] at (924,1219) {C3.8V};
\node[lab,text=bpr] at (920,1266) {Pristine};
\node[etch] at (1293,732) {200s Etch};
% shared
\node[font=\fontsize{16.5}{20}\selectfont] at (257,25) {O1s XPS};
\node[font=\fontsize{16.5}{20}\selectfont] at (262,692) {O1s XPS};
\node[rotate=90,font=\fontsize{16}{19}\selectfont] at (27,330) {Intensity (a.u.)};
\node[rotate=90,font=\fontsize{16}{19}\selectfont] at (27,975) {Intensity (a.u.)};
\node[xl] at (259,660) {Binding Energy (eV)};
\node[xl] at (676,662) {Binding Energy (eV)};
\node[xl] at (1102,664) {Binding Energy (eV)};
\node[xl] at (256,1333) {Binding Energy (eV)};
\node[xl] at (671,1336) {Binding Energy (eV)};
\node[xl] at (1111,1337) {Binding Energy (eV)};
\node[font=\fontsize{14}{16}\selectfont] at (33,660) {a)};
\node[font=\fontsize{14}{16}\selectfont] at (480,660) {b)};
\node[font=\fontsize{14}{16}\selectfont] at (908,664) {c)};
\node[font=\fontsize{14}{16}\selectfont] at (42,1336) {d)};
\node[font=\fontsize{14}{16}\selectfont] at (490,1338) {e)};
\node[font=\fontsize{14}{16}\selectfont] at (915,1339) {f)};
\end{scope}
\end{tikzpicture}
\end{document}
